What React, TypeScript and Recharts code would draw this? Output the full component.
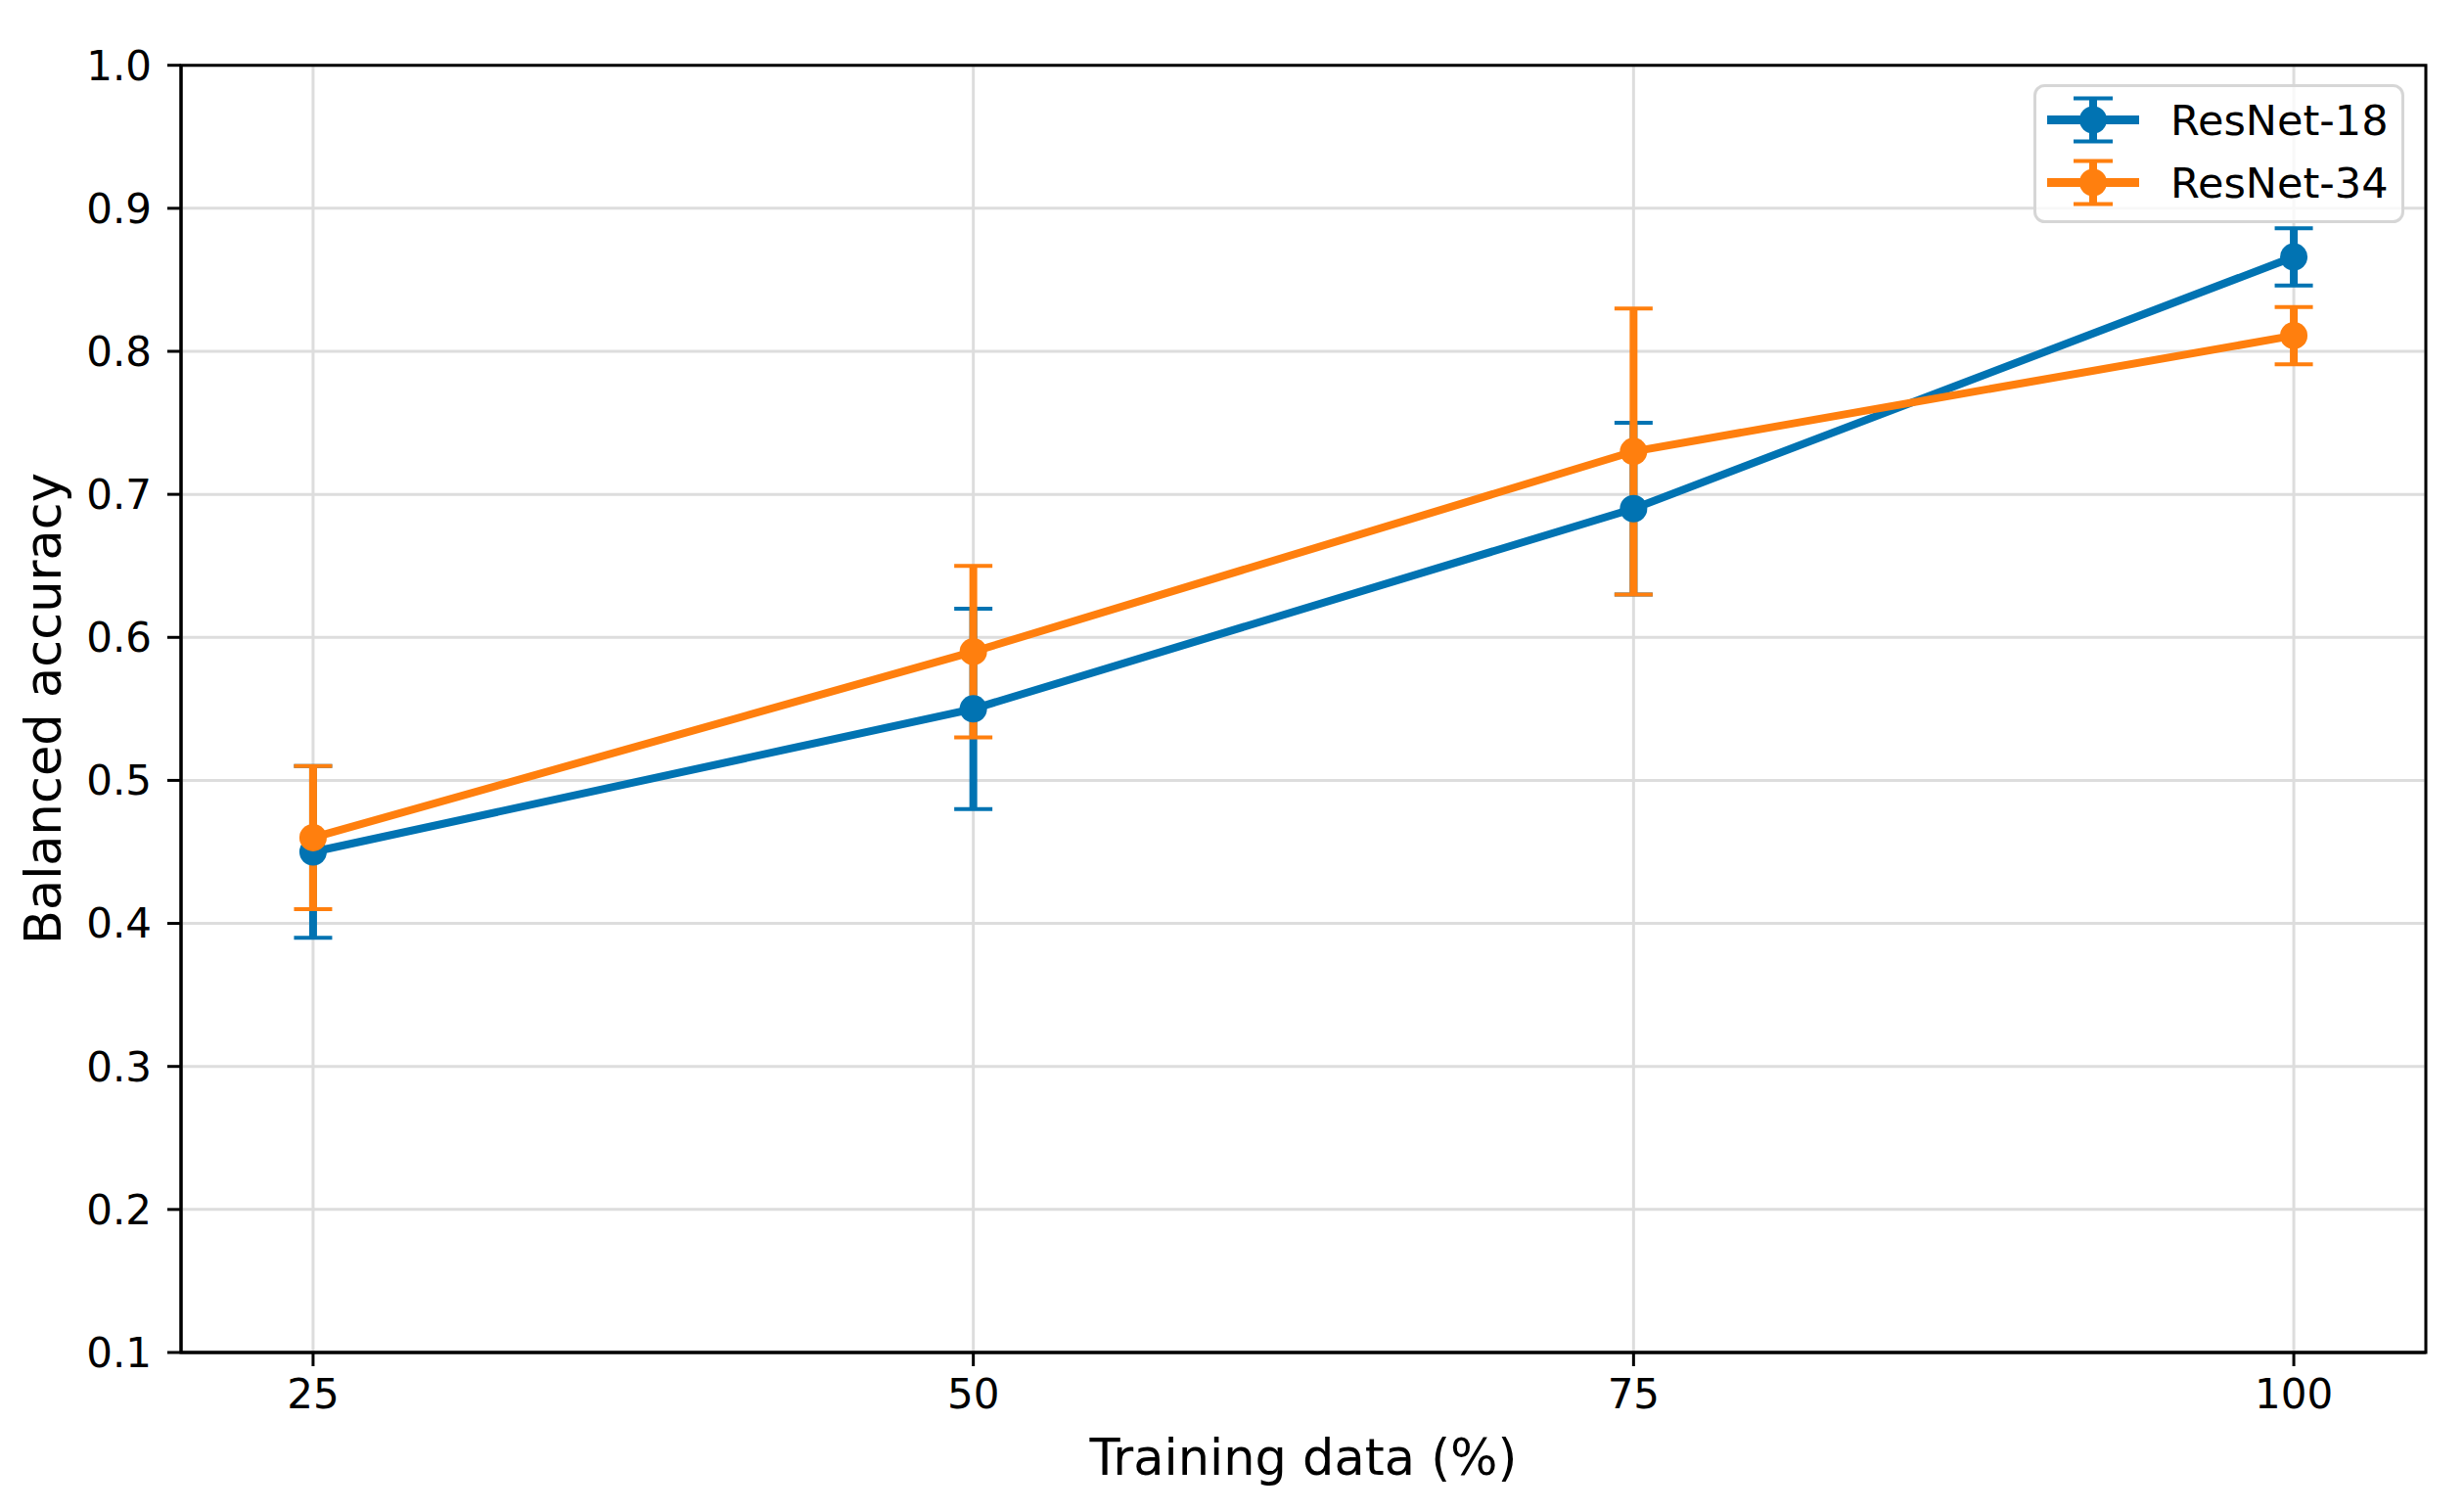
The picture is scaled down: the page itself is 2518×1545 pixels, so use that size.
import { LineChart, Line, XAxis, YAxis, CartesianGrid, ErrorBar, Legend, ReferenceArea } from 'recharts';

const trainingPct = [25, 50, 75, 100];
const resnet18Mean = [0.45, 0.55, 0.69, 0.866];
const resnet18Err = [0.06, 0.07, 0.06, 0.02];
const resnet34Mean = [0.46, 0.59, 0.73, 0.811];
const resnet34Err = [0.05, 0.06, 0.1, 0.02];

const xTicks = [25, 50, 75, 100];
const yTicks = [0.1, 0.2, 0.3, 0.4, 0.5, 0.6, 0.7, 0.8, 0.9, 1.0];

const BLUE = '#0173B2';
const ORANGE = '#FF7F0E';
const FONT = '"DejaVu Sans", Verdana, sans-serif';

const data = trainingPct.map((pct, i) => ({
  pct,
  r18: resnet18Mean[i],
  r18err: resnet18Err[i],
  r34: resnet34Mean[i],
  r34err: resnet34Err[i],
}));

const legendItems = [
  { name: 'ResNet-18', color: BLUE },
  { name: 'ResNet-34', color: ORANGE },
];

const LegendBox = () => (
  <svg width={379} height={142} style={{ display: 'block' }}>
    <rect x={1.5} y={1.5} width={376} height={139} rx={10} fill="#fff" fillOpacity={0.8} stroke="#d6d6d6" strokeWidth={3} />
    {legendItems.map((item, i) => {
      const cy = 36.5 + 64 * i;
      return (
        <g key={item.name}>
          <line x1={14} x2={108} y1={cy} y2={cy} stroke={item.color} strokeWidth={9} />
          <line x1={61} x2={61} y1={cy - 22} y2={cy + 22} stroke={item.color} strokeWidth={8} />
          <line x1={41} x2={81} y1={cy - 22} y2={cy - 22} stroke={item.color} strokeWidth={4} />
          <line x1={41} x2={81} y1={cy + 22} y2={cy + 22} stroke={item.color} strokeWidth={4} />
          <circle cx={61} cy={cy} r={14} fill={item.color} />
          <text x={140} y={cy + 15} fontSize={43} fontFamily={FONT} fill="#000">
            {item.name}
          </text>
        </g>
      );
    })}
  </svg>
);

export default function App() {
  const tickStyle = { fill: '#000', fontSize: 42, fontFamily: FONT };
  return (
    <div style={{ position: 'absolute', left: 0, top: 0, width: 2518, height: 1545, background: '#fff' }}>
      <LineChart
        width={2518}
        height={1545}
        data={data}
        margin={{ top: 66.7, right: 39, bottom: 63, left: 65 }}
        style={{ fontFamily: FONT }}
      >
        <CartesianGrid stroke="#dddddd" strokeWidth={3} />
        <XAxis
          dataKey="pct"
          type="number"
          domain={[20, 105]}
          ticks={xTicks}
          height={100}
          stroke="#000"
          strokeWidth={3}
          tickSize={14}
          tickMargin={13}
          tick={tickStyle}
          label={(props: any) => (
            <text
              x={props.viewBox.x + props.viewBox.width / 2}
              y={1507}
              textAnchor="middle"
              fontSize={51}
              fontFamily={FONT}
              fill="#000"
            >
              Training data (%)
            </text>
          )}
        />
        <YAxis
          type="number"
          domain={[0.1, 1.0]}
          ticks={yTicks}
          width={120}
          stroke="#000"
          strokeWidth={3}
          tickSize={14}
          tickMargin={16}
          tick={tickStyle}
          tickFormatter={(v: number) => v.toFixed(1)}
          label={() => (
            <text
              x={62}
              y={724}
              transform="rotate(-90, 62, 724)"
              textAnchor="middle"
              fontSize={51}
              fontFamily={FONT}
              fill="#000"
            >
              Balanced accuracy
            </text>
          )}
        />
        <ReferenceArea x1={20} x2={105} y1={0.1} y2={1.0} fill="none" stroke="#000" strokeWidth={3} />

        {/* error bars first so the lines and markers sit on top */}
        <Line dataKey="r18" stroke="none" dot={false} activeDot={false} legendType="none" isAnimationActive={false}>
          <ErrorBar dataKey="r18err" width={0} stroke={BLUE} strokeWidth={8} isAnimationActive={false} />
          <ErrorBar dataKey="r18err" width={19.5} stroke={BLUE} strokeWidth={4} isAnimationActive={false} />
        </Line>
        <Line dataKey="r34" stroke="none" dot={false} activeDot={false} legendType="none" isAnimationActive={false}>
          <ErrorBar dataKey="r34err" width={0} stroke={ORANGE} strokeWidth={8} isAnimationActive={false} />
          <ErrorBar dataKey="r34err" width={19.5} stroke={ORANGE} strokeWidth={4} isAnimationActive={false} />
        </Line>

        <Line
          dataKey="r18"
          name="ResNet-18"
          stroke={BLUE}
          strokeWidth={8}
          dot={{ r: 14, fill: BLUE, stroke: 'none' }}
          activeDot={false}
          isAnimationActive={false}
        />
        <Line
          dataKey="r34"
          name="ResNet-34"
          stroke={ORANGE}
          strokeWidth={8}
          dot={{ r: 14, fill: ORANGE, stroke: 'none' }}
          activeDot={false}
          isAnimationActive={false}
        />

        <Legend
          layout="vertical"
          align="center"
          verticalAlign="middle"
          wrapperStyle={{ left: 2078, top: 86, width: 379, height: 142 }}
          content={() => <LegendBox />}
        />
      </LineChart>
    </div>
  );
}
